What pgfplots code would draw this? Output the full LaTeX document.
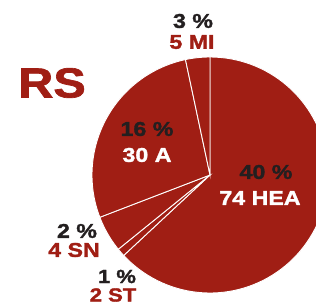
\documentclass[border=0pt]{standalone}
\usepackage{fontspec}
\setmainfont{Liberation Sans}[FakeStretch=1.16, BoldFeatures={FakeBold=1.6}]
\usepackage{pgfplots}
\usepackage{pgfplotstable}
\pgfplotsset{compat=1.18}
\definecolor{rsred}{RGB}{160,30,20}
\definecolor{dark}{RGB}{35,31,32}

% slice sizes in degrees, clockwise from the top
\pgfplotstableread{
label deg
HEA 227
ST 4
SN 18
A 99
MI 12
}\slices

\pgfplotstablegetelem{0}{deg}\of\slices \pgfmathsetmacro\aA{90-\pgfplotsretval}
\pgfplotstablegetelem{1}{deg}\of\slices \pgfmathsetmacro\aB{\aA-\pgfplotsretval}
\pgfplotstablegetelem{2}{deg}\of\slices \pgfmathsetmacro\aC{\aB-\pgfplotsretval}
\pgfplotstablegetelem{3}{deg}\of\slices \pgfmathsetmacro\aD{\aC-\pgfplotsretval}
\pgfplotstablegetelem{4}{deg}\of\slices \pgfmathsetmacro\aE{\aD-\pgfplotsretval}

\begin{document}
\begin{tikzpicture}
\begin{axis}[
  scale only axis, width=316pt, height=305pt,
  xmin=0, xmax=316, ymin=0, ymax=305,
  hide axis,
]
\pgfplotsset{every axis plot/.append style={draw=white, line width=0.9pt, fill=rsred, samples=90, variable=\t}}
\addplot[domain=\aA:90] ({210+118*cos(\t)},{130+118*sin(\t)}) -- (axis cs:210,130) -- cycle;
\addplot[domain=\aB:\aA] ({210+118*cos(\t)},{130+118*sin(\t)}) -- (axis cs:210,130) -- cycle;
\addplot[domain=\aC:\aB] ({210+118*cos(\t)},{130+118*sin(\t)}) -- (axis cs:210,130) -- cycle;
\addplot[domain=\aD:\aC] ({210+118*cos(\t)},{130+118*sin(\t)}) -- (axis cs:210,130) -- cycle;
\addplot[domain=\aE:\aD] ({210+118*cos(\t)},{130+118*sin(\t)}) -- (axis cs:210,130) -- cycle;

\tikzset{lab/.style={inner sep=0pt, font=\fontsize{20}{24}\selectfont\bfseries}}
\node[lab, text=rsred, font=\fontsize{42}{48}\selectfont\bfseries] at (axis cs:52,222) {RS};
\node[lab, text=dark] at (axis cs:193,284) {3 \%};
\node[lab, text=rsred] at (axis cs:192,263) {5 MI};
\node[lab, text=dark] at (axis cs:147,176) {16 \%};
\node[lab, text=white] at (axis cs:147,150) {30 A};
\node[lab, text=dark] at (axis cs:266,133) {40 \%};
\node[lab, text=white] at (axis cs:260,107) {74 HEA};
\node[lab, text=dark] at (axis cs:77,74) {2 \%};
\node[lab, text=rsred] at (axis cs:74,55) {4 SN};
\node[lab, text=dark, font=\fontsize{19}{22}\selectfont\bfseries] at (axis cs:117,28.5) {1 \%};
\node[lab, text=rsred, font=\fontsize{19}{22}\selectfont\bfseries] at (axis cs:113,10) {2 ST};
\end{axis}
\pgfresetboundingbox
\useasboundingbox (current axis.south west) rectangle (current axis.north east);
\end{tikzpicture}
\end{document}
